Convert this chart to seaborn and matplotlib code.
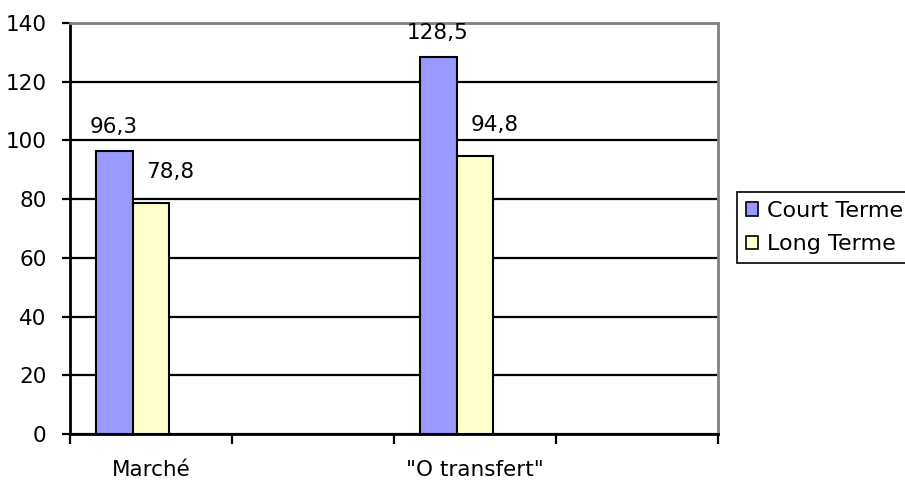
import matplotlib
matplotlib.use("Agg")
import matplotlib.pyplot as plt
import matplotlib.patches as mpatches
import seaborn as sns
import pandas as pd
import numpy as np

# ---- data ----
categories = ["Marché", " ", "\"O transfert\"", "  "]
series = ["Court Terme", "Long Terme", "_blank"]
court_terme = [96.3, np.nan, 128.5, np.nan]
long_terme = [78.8, np.nan, 94.8, np.nan]
blank = [np.nan, np.nan, np.nan, np.nan]
value_labels_court = ["96,3", "", "128,5", ""]
value_labels_long = ["78,8", "", "94,8", ""]
yticks = [0, 20, 40, 60, 80, 100, 120, 140]

colors = {"Court Terme": "#9999FF", "Long Terme": "#FFFFCC", "_blank": "#FFFFFF"}

rows = []
for s, vals in zip(series, [court_terme, long_terme, blank]):
    for c, v in zip(categories, vals):
        rows.append({"cat": c, "serie": s, "val": v})
df = pd.DataFrame(rows)

sns.set_theme(style="white")
plt.rcParams["font.family"] = ["DejaVu Sans"]
plt.rcParams["text.color"] = "black"
plt.rcParams["xtick.color"] = "black"
plt.rcParams["ytick.color"] = "black"

fig = plt.figure(figsize=(9.05, 4.82), dpi=100)
ax = fig.add_axes([70 / 905, 1 - 434 / 482, (718 - 70) / 905, (434 - 23) / 482])

sns.barplot(data=df, x="cat", y="val", hue="serie", order=categories,
            hue_order=series, palette=colors, width=0.685, dodge=True,
            edgecolor="black", linewidth=1.5, errorbar=None, legend=False,
            saturation=1, ax=ax, zorder=3)

ax.set_xlim(-0.5, 3.5)
ax.set_ylim(0, 140)
ax.set_yticks(yticks)
ax.set_yticklabels([str(t) for t in yticks], fontsize=15.5, color="black")
ax.set_axisbelow(True)
ax.yaxis.grid(True, color="black", linewidth=1.6)
ax.xaxis.grid(False)

# x ticks: marks at category boundaries, labels at centers
ax.set_xticks(np.arange(-0.5, 4.0, 1.0))
ax.set_xticklabels([""] * 5)
ax.set_xticks(np.arange(0, 4), minor=True)
ax.set_xticklabels(categories, minor=True, fontsize=15.5, color="black")
ax.tick_params(axis="x", which="major", direction="out", length=7.5, width=1.6,
               color="black", bottom=True)
ax.tick_params(axis="x", which="minor", length=0, pad=19, bottom=True)
ax.tick_params(axis="y", direction="out", length=6, width=1.6, color="black",
               pad=11, left=True)
ax.set_xlabel("")
ax.set_ylabel("")

for side in ["left", "bottom"]:
    ax.spines[side].set_color("black")
    ax.spines[side].set_linewidth(2)
for side in ["top", "right"]:
    ax.spines[side].set_color("#808080")
    ax.spines[side].set_linewidth(2)

# data labels (seaborn drops NaN bars, so pair labels with finite values)
for cont, vals, labels, off in zip(ax.containers[:2],
                                   [court_terme, long_terme],
                                   [value_labels_court, value_labels_long],
                                   [(0, 13), (14, 18)]):
    labs = [l for v, l in zip(vals, labels) if np.isfinite(v)]
    for patch, lab in zip(cont.patches, labs):
        h = patch.get_height()
        if lab and np.isfinite(h):
            ax.annotate(lab, (patch.get_x() + patch.get_width() / 2, h),
                        xytext=off, textcoords="offset points",
                        ha="center", va="baseline", fontsize=15.5,
                        color="black", zorder=5, annotation_clip=False)

# legend
handles = [mpatches.Patch(facecolor=colors[s], edgecolor="black", linewidth=1.2, label=s)
           for s in series[:2]]
leg = fig.legend(handles=handles, loc="upper left",
                 bbox_to_anchor=(737 / 905, 1 - 192 / 482),
                 fontsize=16, frameon=True, fancybox=False, borderaxespad=0,
                 handlelength=0.55, handleheight=0.55, handletextpad=0.4,
                 labelspacing=0.6, borderpad=0.4)
leg.get_frame().set_edgecolor("black")
leg.get_frame().set_linewidth(1.2)
leg.get_frame().set_alpha(1)
for t in leg.get_texts():
    t.set_color("black")

fig.savefig("out.png", dpi=100)
